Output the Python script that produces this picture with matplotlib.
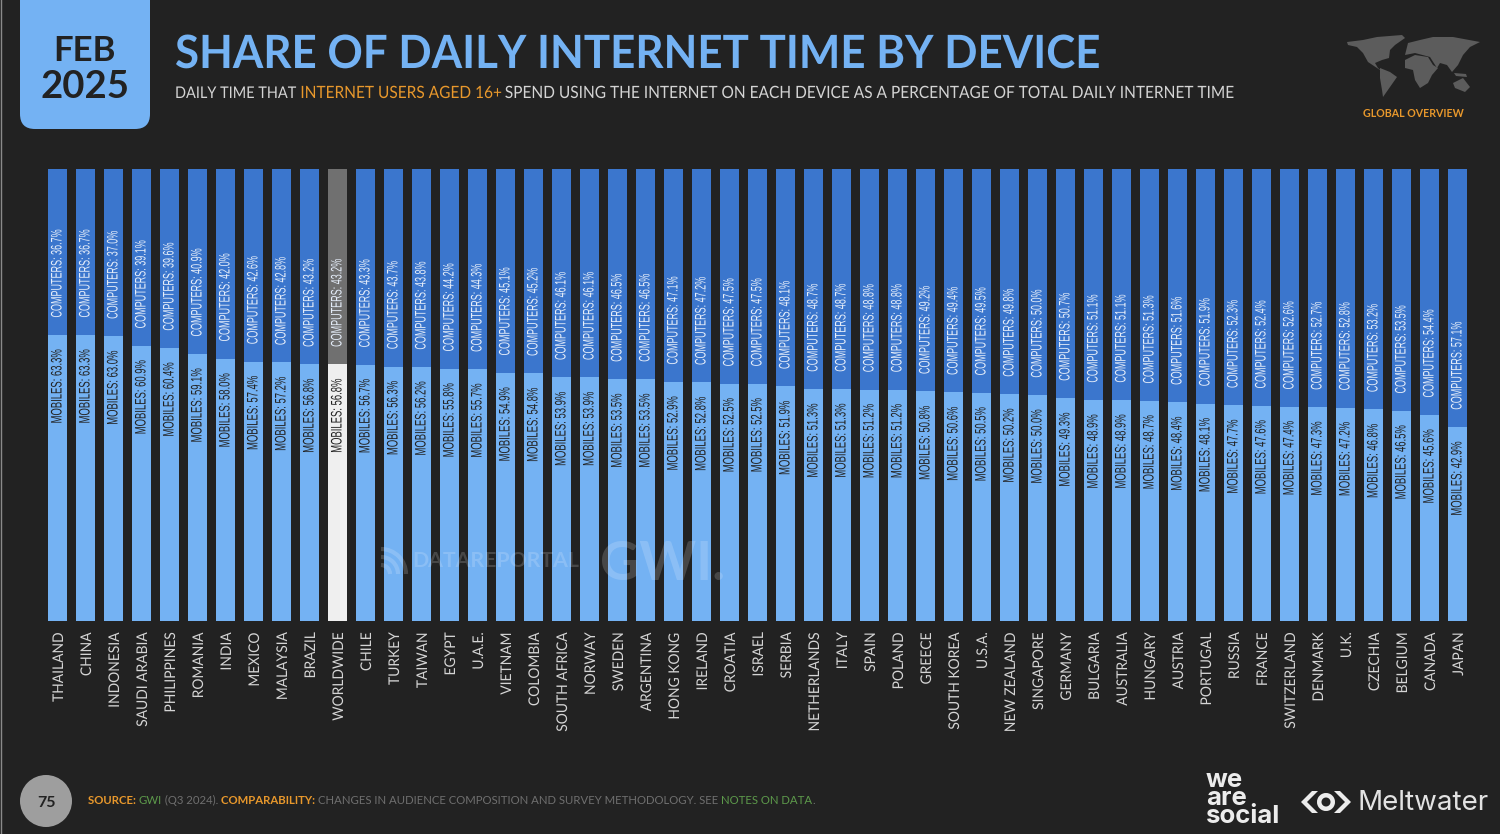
import matplotlib
matplotlib.use("Agg")
import matplotlib.pyplot as plt
from matplotlib.patches import FancyBboxPatch, Circle, Polygon, Arc, Wedge
from matplotlib.patheffects import AbstractPathEffect
from matplotlib.transforms import Affine2D

W, H = 1500, 834
BG = "#222222"
LIGHT = "#74b2f3"
DARK = "#3b76cd"
ORANGE = "#e8982c"
GREY_TXT = "#d4d4d4"
FONT = "Lato"
NARROW = "Liberation Sans"

countries = ["THAILAND", "CHINA", "INDONESIA", "SAUDI ARABIA", "PHILIPPINES", "ROMANIA", "INDIA",
             "MEXICO", "MALAYSIA", "BRAZIL", "WORLDWIDE", "CHILE", "TURKEY", "TAIWAN", "EGYPT",
             "U.A.E.", "VIETNAM", "COLOMBIA", "SOUTH AFRICA", "NORWAY", "SWEDEN", "ARGENTINA",
             "HONG KONG", "IRELAND", "CROATIA", "ISRAEL", "SERBIA", "NETHERLANDS", "ITALY", "SPAIN",
             "POLAND", "GREECE", "SOUTH KOREA", "U.S.A.", "NEW ZEALAND", "SINGAPORE", "GERMANY",
             "BULGARIA", "AUSTRALIA", "HUNGARY", "AUSTRIA", "PORTUGAL", "RUSSIA", "FRANCE",
             "SWITZERLAND", "DENMARK", "U.K.", "CZECHIA", "BELGIUM", "CANADA", "JAPAN"]
mobiles = [63.3, 63.3, 63.0, 60.9, 60.4, 59.1, 58.0, 57.4, 57.2, 56.8, 56.8, 56.7, 56.3, 56.2, 55.8,
           55.7, 54.9, 54.8, 53.9, 53.9, 53.5, 53.5, 52.9, 52.8, 52.5, 52.5, 51.9, 51.3, 51.3, 51.2,
           51.2, 50.8, 50.6, 50.5, 50.2, 50.0, 49.3, 48.9, 48.9, 48.7, 48.4, 48.1, 47.7, 47.6,
           47.4, 47.3, 47.2, 46.8, 46.5, 45.6, 42.9]
computers = [36.7, 36.7, 37.0, 39.1, 39.6, 40.9, 42.0, 42.6, 42.8, 43.2, 43.2, 43.3, 43.7, 43.8, 44.2,
             44.3, 45.1, 45.2, 46.1, 46.1, 46.5, 46.5, 47.1, 47.2, 47.5, 47.5, 48.1, 48.7, 48.7, 48.8,
             48.8, 49.2, 49.4, 49.5, 49.8, 50.0, 50.7, 51.1, 51.1, 51.3, 51.6, 51.9, 52.3, 52.4,
             52.6, 52.7, 52.8, 53.2, 53.5, 54.4, 57.1]


class Squeeze(AbstractPathEffect):
    # no condensed font here, so narrow the glyphs along the text direction
    def __init__(self, factor, from_end=False):
        super().__init__()
        self.factor = factor
        self.from_end = from_end

    def draw_path(self, renderer, gc, tpath, affine, rgbFace=None):
        pivot = tpath.get_extents().x1 if self.from_end else 0
        squeeze = Affine2D().translate(-pivot, 0).scale(self.factor, 1).translate(pivot, 0)
        renderer.draw_path(gc, tpath, squeeze + affine, rgbFace)


fig = plt.figure(figsize=(W / 100, H / 100), dpi=100, facecolor=BG)

# overlay in pixel coords for the slide furniture
page = fig.add_axes([0, 0, 1, 1], zorder=1)
page.set_xlim(0, W)
page.set_ylim(H, 0)
page.axis("off")
page.axvline(0.5, color="#8a8a8a", lw=1)

# the bars
left, right, top, bottom = 43.5, 1471.5, 169, 621
ax = fig.add_axes([left / W, 1 - bottom / H, (right - left) / W, (bottom - top) / H], zorder=2)
ax.patch.set_alpha(0)
for s in ax.spines.values():
    s.set_visible(False)
x = list(range(len(countries)))
ww = countries.index("WORLDWIDE")
col_m = [("#efefef" if i == ww else LIGHT) for i in x]
col_c = [("#707070" if i == ww else DARK) for i in x]
ax.bar(x, mobiles, width=0.68, color=col_m)
ax.bar(x, computers, width=0.68, bottom=mobiles, color=col_c)
ax.set_xlim(-0.5, len(x) - 0.5)
ax.set_ylim(0, 100)
ax.set_yticks([])
ax.set_xticks(x)
ax.set_xticklabels(countries, rotation=90, fontsize=10.6, color=GREY_TXT, family=FONT)
ax.tick_params(axis="x", length=0, pad=8)
for lab in ax.get_xticklabels():
    lab.set_transform(lab.get_transform() + Affine2D().translate(1.5, 0))
    lab.set_path_effects([Squeeze(0.94, from_end=True)])

for i in x:
    c = ax.annotate(f"COMPUTERS: {computers[i]:.1f}%", (i, mobiles[i]), xytext=(0, 12.5),
                    textcoords="offset points", rotation=90, ha="center", va="bottom",
                    fontsize=11, color="#e6eefa", family=NARROW)
    c.set_path_effects([Squeeze(0.59)])
    m = ax.annotate(f"MOBILES: {mobiles[i]:.1f}%", (i, mobiles[i]), xytext=(0, -10.5),
                    textcoords="offset points", rotation=90, ha="center", va="top",
                    fontsize=11, color="#222222", family=NARROW)
    m.set_path_effects([Squeeze(0.62, from_end=True)])

renderer = fig.canvas.get_renderer()


def text_run(xpos, ypos, runs, size, factor=1.0):
    # several colours on one baseline, each run starts where the last one ended
    for txt, color, weight in runs:
        t = page.text(xpos, ypos, txt, color=color, fontsize=size, fontweight=weight,
                      family=FONT, va="baseline", ha="left", zorder=5)
        if factor != 1.0:
            t.set_path_effects([Squeeze(factor)])
        box = t.get_window_extent(renderer)
        xpos += box.width * factor
    return xpos


# date box
page.add_patch(FancyBboxPatch((20, -30), 130, 159, boxstyle="round,pad=0,rounding_size=15", fc=LIGHT, ec="none"))
page.text(85, 61, "FEB", ha="center", va="baseline", fontsize=25, fontweight="bold", color=BG, family=FONT)
page.text(85, 98, "2025", ha="center", va="baseline", fontsize=27.5, fontweight="bold", color=BG, family=FONT)

# headings
title = page.text(175, 68, "SHARE OF DAILY INTERNET TIME BY DEVICE", color=LIGHT, fontsize=33,
                  fontweight="bold", family=FONT, va="baseline")
title.set_path_effects([Squeeze(0.957)])
sub_x = text_run(175, 98, [("DAILY TIME THAT ", GREY_TXT, "normal")], 11.6, factor=0.9)
text_run(sub_x, 98, [("INTERNET USERS AGED 16+", ORANGE, "normal"),
                     (" SPEND USING THE INTERNET ON EACH DEVICE AS A PERCENTAGE OF TOTAL DAILY INTERNET TIME",
                      GREY_TXT, "normal")], 12.2, factor=0.912)

# little world map, top right
land = [
    [(1347, 42), (1363, 40), (1377, 37), (1402, 35), (1405, 38), (1395, 45), (1390, 50), (1389, 58), (1382, 60),
     (1375, 63), (1378, 68), (1383, 72), (1377, 68), (1368, 62), (1363, 53), (1357, 47), (1348, 45)],
    [(1380, 68), (1390, 72), (1397, 77), (1390, 87), (1383, 97), (1382, 90), (1380, 78)],
    [(1405, 60), (1415, 55), (1428, 57), (1433, 65), (1438, 68), (1432, 75), (1428, 83), (1420, 88), (1415, 80),
     (1413, 70), (1405, 68)],
    [(1405, 55), (1408, 43), (1420, 40), (1433, 37), (1453, 37), (1480, 42), (1470, 47), (1463, 55), (1458, 65),
     (1452, 72), (1447, 65), (1440, 63), (1437, 68), (1430, 57), (1415, 53)],
    [(1453, 83), (1463, 78), (1470, 87), (1465, 92), (1455, 88)],
    [(1454, 73), (1466, 74), (1467, 77), (1456, 76)],
]
for poly in land:
    page.add_patch(Polygon(poly, closed=True, fc="#5c5c5c", ec="none"))
page.text(1413, 117, "GLOBAL OVERVIEW", ha="center", va="baseline", fontsize=7.7, fontweight="bold",
          color=ORANGE, family=FONT)

# footer
page.add_patch(Circle((46, 801), 26, fc="#9e9e9e", ec="none"))
page.text(46, 807, "75", ha="center", va="baseline", fontsize=11.5, fontweight="bold", color=BG, family=FONT)
GREEN = "#5d9a4b"
FOOT = "#6f6f6f"
text_run(88, 804, [("SOURCE: ", ORANGE, "bold"), ("GWI", GREEN, "normal"), (" (Q3 2024). ", FOOT, "normal"),
                   ("COMPARABILITY: ", ORANGE, "bold"),
                   ("CHANGES IN AUDIENCE COMPOSITION AND SURVEY METHODOLOGY. SEE ", FOOT, "normal"),
                   ("NOTES ON DATA", GREEN, "normal"), (".", FOOT, "normal")], 8.2)

# logos
page.text(1206, 828, "we\nare\nsocial", ha="left", va="bottom", fontsize=18.5, fontweight="bold",
          color="#ececec", family="Inter", linespacing=0.72)
page.add_patch(Polygon([(1312, 791), (1301, 802), (1312, 813), (1318, 813), (1307, 802), (1318, 791)], fc="#ececec"))
page.add_patch(Polygon([(1340, 791), (1351, 802), (1340, 813), (1334, 813), (1345, 802), (1334, 791)], fc="#ececec"))
page.add_patch(Wedge((1326, 802), 9, 0, 360, width=4.5, fc="#ececec", ec="none"))
page.text(1357, 810, "Meltwater", ha="left", va="baseline", fontsize=20, color="#e2e2e2", family="Inter")

# watermark sits on top of the bars
mark = fig.add_axes([0, 0, 1, 1], zorder=3)
mark.set_xlim(0, W)
mark.set_ylim(H, 0)
mark.axis("off")
mark.text(412, 567, "DATAREPORTAL", fontsize=15.3, fontweight="bold", color="white", alpha=0.17, family=FONT,
          va="baseline")
mark.text(600, 580, "GWI.", fontsize=39, fontweight="bold", color="white", alpha=0.17, family=FONT, va="baseline")
for r in (9, 17, 25):
    mark.add_patch(Arc((381, 574), r * 2, r * 2, theta1=270, theta2=360, ec="white", lw=3, alpha=0.17))

fig.savefig("out.png", dpi=100, facecolor=BG)
